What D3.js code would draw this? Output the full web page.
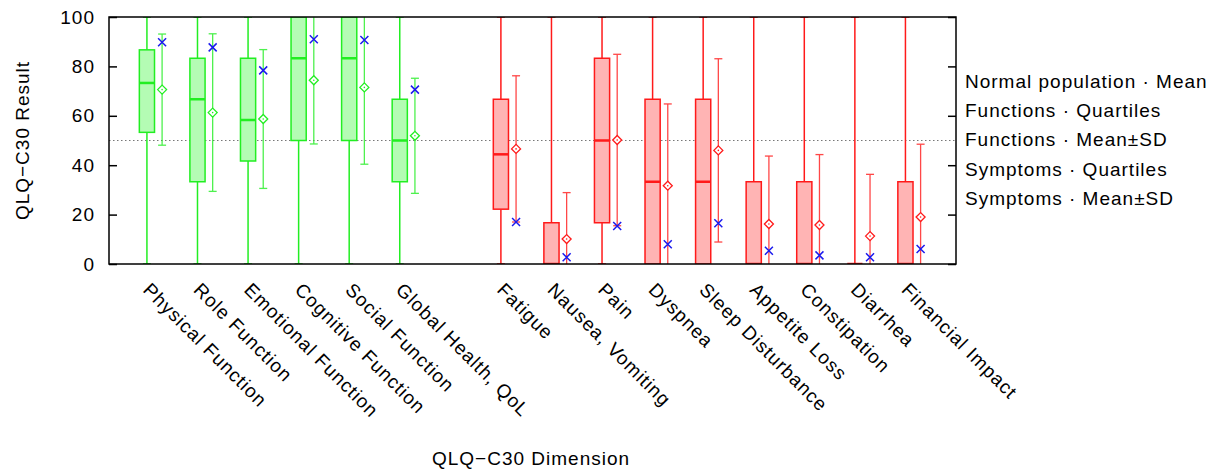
<!DOCTYPE html>
<html>
<head>
<meta charset="utf-8">
<script src="https://cdn.jsdelivr.net/npm/d3@7"></script>
<style>
  body { margin: 0; background: #fff; }
  text { font-family: "Liberation Sans", Arial, sans-serif; }
</style>
</head>
<body>
<svg id="chart" width="1213" height="474"></svg>
<script>
// categories and their x positions (gap between functions and symptoms)
const dimensions_names = ["Physical Function", "Role Function", "Emotional Function", "Cognitive Function",
  "Social Function", "Global Health, QoL", "Fatigue", "Nausea, Vomiting", "Pain", "Dyspnea",
  "Sleep Disturbance", "Appetite Loss", "Constipation", "Diarrhea", "Financial Impact"];
const positions = [1, 2, 3, 4, 5, 6, 8, 9, 10, 11, 12, 13, 14, 15, 16];
const is_function = [true, true, true, true, true, true, false, false, false, false, false, false, false, false, false];

// quartiles + whiskers
const whisker_low = [0, 0, 0, 0, 0, 0, 0, 0, 0, 0, 0, 0, 0, 0, 0];
const q1 = [53.3, 33.3, 41.7, 50, 50, 33.3, 22.2, 0, 16.7, 0, 0, 0, 0, 0, 0];
const median = [73.3, 66.7, 58.3, 83.3, 83.3, 50, 44.4, 0, 50, 33.3, 33.3, 0, 0, 0, 0];
const q3 = [86.7, 83.3, 83.3, 100, 100, 66.7, 66.7, 16.7, 83.3, 66.7, 66.7, 33.3, 33.3, 0, 33.3];
const whisker_high = [100, 100, 100, 100, 100, 100, 100, 100, 100, 100, 100, 100, 100, 100, 100];

// mean and standard deviation of the sample
const mean = [70.6, 61.3, 58.7, 74.4, 71.5, 51.9, 46.6, 10.1, 50.2, 31.7, 46.0, 16.2, 15.8, 11.3, 19.0];
const sd = [22.5, 31.9, 28.1, 25.8, 31.1, 23.3, 29.6, 18.8, 34.7, 33.1, 37.1, 27.5, 28.5, 25.0, 29.5];

// normal population mean
const normal_mean = [89.8, 87.7, 78.4, 91.0, 90.7, 70.6, 17.0, 2.7, 15.4, 8.0, 16.5, 5.4, 3.5, 2.7, 6.1];

const y_ticks = [0, 20, 40, 60, 80, 100];
const legend_labels = ["Normal population \u00b7 Mean", "Functions \u00b7 Quartiles", "Functions \u00b7 Mean\u00b1SD",
  "Symptoms \u00b7 Quartiles", "Symptoms \u00b7 Mean\u00b1SD"];

// colors
let func_stroke = "#22ee22";
let func_fill = "#b4fcb4";
let symp_stroke = "#ff1a1a";
let symp_fill = "#ffb4b4";
let normal_blue = "#1a1aee";

const font_size = 19;
const spacing = "1px";

let svg = d3.select("#chart");

let dims = { width: 1213, height: 474, margins: { top: 17, right: 257, bottom: 210, left: 109 } };
dims.boundedWidth = dims.width - dims.margins.left - dims.margins.right;
dims.boundedHeight = dims.height - dims.margins.top - dims.margins.bottom;

const xScale = d3.scaleLinear().domain([0.25, 17]).range([0, dims.boundedWidth]);
const yScale = d3.scaleLinear().domain([0, 100]).range([dims.boundedHeight, 0]);

const boundingBox = svg.append("g")
  .attr("transform", `translate(${dims.margins.left},${dims.margins.top})`);

svg.append("defs").append("clipPath").attr("id", "plot-clip")
  .append("rect").attr("x", 0).attr("y", 0)
  .attr("width", dims.boundedWidth).attr("height", dims.boundedHeight);

// dotted reference line at 50
boundingBox.append("line")
  .attr("x1", 0).attr("x2", dims.boundedWidth)
  .attr("y1", yScale(50)).attr("y2", yScale(50))
  .attr("stroke", "#777").attr("stroke-width", 1).attr("stroke-dasharray", "1.5,2.5");

const plot = boundingBox.append("g").attr("clip-path", "url(#plot-clip)");

const box_half = xScale(0.15) - xScale(0);
const cap_half = 4;
const sd_offset = xScale(0.3) - xScale(0);

const rows = positions.map((p, i) => ({ i, p }));

rows.forEach(({ i, p }) => {
  const cx = xScale(p);
  const stroke = is_function[i] ? func_stroke : symp_stroke;
  const fill = is_function[i] ? func_fill : symp_fill;
  const g = plot.append("g");

  // whiskers
  g.append("line").attr("x1", cx).attr("x2", cx)
    .attr("y1", yScale(whisker_low[i])).attr("y2", yScale(q1[i]))
    .attr("stroke", stroke).attr("stroke-width", 1.5);
  g.append("line").attr("x1", cx).attr("x2", cx)
    .attr("y1", yScale(q3[i])).attr("y2", yScale(whisker_high[i]))
    .attr("stroke", stroke).attr("stroke-width", 1.5);
  [whisker_low[i], whisker_high[i]].forEach(v => {
    g.append("line").attr("x1", cx - cap_half).attr("x2", cx + cap_half)
      .attr("y1", yScale(v)).attr("y2", yScale(v))
      .attr("stroke", stroke).attr("stroke-width", 1.5);
  });

  // box
  g.append("rect")
    .attr("x", cx - box_half).attr("width", box_half * 2)
    .attr("y", yScale(q3[i])).attr("height", Math.max(yScale(q1[i]) - yScale(q3[i]), 0))
    .attr("fill", fill).attr("stroke", stroke).attr("stroke-width", 1.5);

  // median
  g.append("line").attr("x1", cx - box_half).attr("x2", cx + box_half)
    .attr("y1", yScale(median[i])).attr("y2", yScale(median[i]))
    .attr("stroke", stroke).attr("stroke-width", 2.5);

  // mean +- sd
  const mx = cx + sd_offset;
  const sdg = g.append("g").attr("opacity", 0.8);
  sdg.append("line").attr("x1", mx).attr("x2", mx)
    .attr("y1", yScale(mean[i] - sd[i])).attr("y2", yScale(mean[i] + sd[i]))
    .attr("stroke", stroke).attr("stroke-width", 1.3);
  [mean[i] - sd[i], mean[i] + sd[i]].forEach(v => {
    sdg.append("line").attr("x1", mx - cap_half).attr("x2", mx + cap_half)
      .attr("y1", yScale(v)).attr("y2", yScale(v))
      .attr("stroke", stroke).attr("stroke-width", 1.3);
  });
  const my = yScale(mean[i]);
  g.append("path")
    .attr("d", `M${mx - 4.5},${my} L${mx},${my - 4.5} L${mx + 4.5},${my} L${mx},${my + 4.5} Z`)
    .attr("fill", "white").attr("stroke", stroke).attr("stroke-width", 1.3);
  g.append("circle").attr("cx", mx).attr("cy", my).attr("r", 0.8).attr("fill", stroke);

  // normal population mean marker
  const ny = yScale(normal_mean[i]);
  g.append("path")
    .attr("d", `M${mx - 4},${ny - 4} L${mx + 4},${ny + 4} M${mx - 4},${ny + 4} L${mx + 4},${ny - 4}`)
    .attr("stroke", normal_blue).attr("stroke-width", 1.5).attr("fill", "none");
});

// axes, ticks inward on both sides
const yAxisLeft = d3.axisLeft(yScale).tickValues(y_ticks).tickSizeInner(-8).tickSizeOuter(0).tickPadding(14);
const yAxisRight = d3.axisRight(yScale).tickValues(y_ticks).tickSizeInner(-8).tickSizeOuter(0).tickFormat("");

const yl = boundingBox.append("g").call(yAxisLeft);
const yr = boundingBox.append("g").attr("transform", `translate(${dims.boundedWidth},0)`).call(yAxisRight);
[yl, yr].forEach(a => {
  a.select(".domain").remove();
  a.selectAll(".tick line").attr("stroke", "#000").attr("stroke-width", 1.5);
});
yl.selectAll(".tick text").attr("font-size", font_size).attr("fill", "#000")
  .attr("font-family", "Liberation Sans, Arial, sans-serif").style("letter-spacing", spacing);

// border
boundingBox.append("rect")
  .attr("x", 0).attr("y", 0).attr("width", dims.boundedWidth).attr("height", dims.boundedHeight)
  .attr("fill", "none").attr("stroke", "#000").attr("stroke-width", 1.5);

// rotated category labels
rows.forEach(({ i, p }) => {
  const lx = xScale(p) - 5;
  const ly = dims.boundedHeight + 27;
  boundingBox.append("text")
    .attr("transform", `translate(${lx},${ly}) rotate(45)`)
    .attr("font-size", font_size).attr("fill", "#000").style("letter-spacing", spacing)
    .text(dimensions_names[i]);
});

// axis titles
svg.append("text")
  .attr("transform", `translate(29,${dims.margins.top + dims.boundedHeight / 2}) rotate(-90)`)
  .attr("text-anchor", "middle").attr("font-size", font_size).style("letter-spacing", spacing)
  .text("QLQ\u2212C30 Result");

svg.append("text")
  .attr("x", 531).attr("y", 465)
  .attr("text-anchor", "middle").attr("font-size", font_size).style("letter-spacing", spacing)
  .text("QLQ\u2212C30 Dimension");

// legend (text only)
legend_labels.forEach((t, k) => {
  svg.append("text")
    .attr("x", 965).attr("y", 88 + k * 29.2)
    .attr("font-size", font_size).style("letter-spacing", spacing)
    .text(t);
});
</script>
</body>
</html>
